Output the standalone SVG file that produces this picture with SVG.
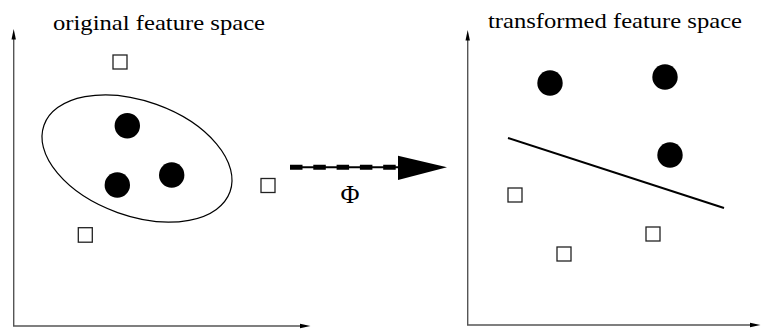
<svg xmlns="http://www.w3.org/2000/svg" width="762" height="329" viewBox="0 0 762 329">
<defs>
<style>
.axis{stroke:#555;stroke-width:1.4;fill:none}
.head{fill:#000}
.sq{fill:#fff;stroke:#222;stroke-width:1.3}
.dot{fill:#000}
.serif{font-family:'Liberation Serif','DejaVu Serif','Times New Roman',serif;fill:#000}
.title{font-size:22px}
</style>
</defs>
<rect width="762" height="329" fill="#fff"/>
<g id="left-axes">
<line class="axis" x1="13.7" y1="326" x2="13.7" y2="38"/>
<line class="axis" x1="13" y1="326" x2="302" y2="326"/>
<polygon class="head" points="13.7,29 11.5,39.5 15.9,39.5"/>
<polygon class="head" points="310.5,326 300,323.8 300,328.2"/>
</g>
<g id="right-axes">
<line class="axis" x1="467.7" y1="325" x2="467.7" y2="39"/>
<line class="axis" x1="467" y1="325" x2="752" y2="325"/>
<polygon class="head" points="467.7,30 465.5,40.5 469.9,40.5"/>
<polygon class="head" points="760.5,325 750,322.8 750,327.2"/>
</g>
<g id="title-left"><text class="serif title" x="53" y="29.5" textLength="212" lengthAdjust="spacingAndGlyphs">original feature space</text></g>
<g id="title-right"><text class="serif title" x="488" y="28" textLength="254" lengthAdjust="spacingAndGlyphs">transformed feature space</text></g>
<g id="cluster">
<ellipse cx="137" cy="158.5" rx="98.8" ry="57.5" transform="rotate(19.7 137 158.5)" fill="none" stroke="#000" stroke-width="1.2"/>
</g>
<g id="left-points">
<rect class="sq" x="113" y="55" width="14" height="14"/>
<rect class="sq" x="261" y="178.5" width="14" height="14"/>
<rect class="sq" x="78.3" y="227.7" width="14" height="14.5"/>
<circle class="dot" cx="127.3" cy="125.7" r="12.7"/>
<circle class="dot" cx="117.3" cy="185" r="12.7"/>
<circle class="dot" cx="171.7" cy="175" r="12.7"/>
</g>
<g id="right-points">
<circle class="dot" cx="550" cy="83" r="12.7"/>
<circle class="dot" cx="665" cy="77" r="12.7"/>
<circle class="dot" cx="670" cy="155" r="12.7"/>
<rect class="sq" x="508" y="188" width="14" height="14"/>
<rect class="sq" x="557" y="247" width="14" height="14"/>
<rect class="sq" x="646" y="227" width="14" height="14"/>
</g>
<g id="separator">
<line x1="508" y1="138" x2="724" y2="208" stroke="#000" stroke-width="2"/>
</g>
<g id="connectors">
<line x1="290" y1="167.3" x2="400" y2="167.3" stroke="#000" stroke-width="2"/>
<line x1="290" y1="167.3" x2="398" y2="167.3" stroke="#000" stroke-width="5" stroke-dasharray="12.5 10.8"/>
<polygon points="398,155.7 447,167.3 398,180" fill="#000"/>
<text class="serif" x="350" y="202.5" text-anchor="middle" font-size="26">Φ</text>
</g>
</svg>
